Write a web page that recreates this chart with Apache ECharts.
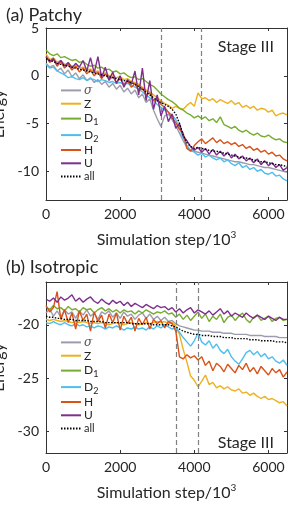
<!DOCTYPE html>
<html><head><meta charset="utf-8">
<script src="https://cdn.jsdelivr.net/npm/echarts@6/dist/echarts.min.js"></script>
<style>html,body{margin:0;padding:0;background:#fff}#c{width:291px;height:506px}</style>
</head><body><div id="c"></div>
<script>
const names = ['σ','Z','D1','D2','H','U','all'];
const colors = ['#9c9cae','#EDB120','#77AC30','#4DBEEE','#D95319','#7E2F8E','#000000'];
const steps = []; for (let s = 0; s <= 6500; s += 100) steps.push(s);
const xTicks = [0,2000,4000,6000];
const yTicksA = [-10,-5,0,5];
const yTicksB = [-30,-25,-20];
const stageLinesA = [3100,4200];
const stageLinesB = [3500,4100];

// Panel (a) Patchy
const aSigma = [1.3,0.9,1.1,0.5,0.8,0.2,0.6,-0.1,0.3,-0.3,0.1,-0.5,-0.2,-0.7,-0.4,-0.9,-0.6,-1.2,-0.8,-1.4,-1.0,-1.7,-1.3,-1.9,-1.5,-2.3,-1.9,-2.8,-2.4,-3.6,-4.5,-5.3,-4.2,-4.0,-4.6,-5.2,-6.0,-6.8,-7.5,-7.8,-7.9,-8.0,-8.1,-8.2,-8.3,-8.4,-8.5,-8.6,-8.7,-8.8,-8.9,-9.0,-9.0,-9.1,-9.2,-9.3,-9.3,-9.4,-9.5,-9.6,-9.6,-9.7,-9.8,-9.9,-10.0,-10.1];
const aZ = [2.3,1.7,1.9,1.4,1.6,1.2,1.3,1.0,1.1,0.8,0.9,0.6,0.7,0.4,0.5,0.2,0.3,0.0,0.1,-0.2,-0.1,-0.4,-0.3,-0.6,-0.7,-0.9,-1.2,-1.5,-1.7,-2.0,-2.3,-2.6,-2.9,-3.1,-3.4,-3.2,-3.4,-3.5,-3.1,-2.8,-3.2,-1.8,-2.4,-2.3,-2.6,-2.4,-2.8,-2.5,-2.7,-2.9,-2.6,-3.0,-2.8,-3.3,-3.1,-3.4,-3.2,-3.6,-3.4,-3.5,-3.8,-3.6,-4.2,-4.0,-3.9,-4.1];
const aD1 = [2.7,2.3,2.1,2.3,1.9,2.0,1.8,1.6,1.7,1.4,1.5,1.2,1.0,1.1,0.8,0.9,0.6,0.7,0.4,0.5,0.2,0.3,0.0,-0.2,-0.1,-0.4,-0.3,-0.6,-0.9,-1.1,-1.5,-1.9,-2.2,-2.5,-2.7,-3.0,-3.4,-3.6,-3.9,-4.1,-4.4,-4.2,-4.5,-4.3,-4.7,-4.5,-4.9,-4.3,-5.1,-5.3,-5.5,-5.3,-5.7,-5.9,-5.7,-6.0,-6.2,-6.0,-6.3,-6.4,-6.2,-6.5,-6.7,-6.6,-6.9,-7.0];
const aD2 = [1.2,0.8,0.9,0.5,0.3,0.1,-0.2,-0.1,-0.3,-0.4,-0.2,-0.5,-0.3,-0.4,-0.6,-0.4,-0.5,-0.7,-0.6,-0.8,-0.7,-0.9,-0.8,-1.0,-1.2,-1.4,-1.7,-2.0,-2.3,-2.6,-3.0,-3.3,-3.6,-3.8,-4.1,-4.6,-5.5,-6.5,-7.3,-7.8,-8.0,-8.3,-8.1,-8.5,-8.3,-8.6,-8.8,-8.6,-9.0,-8.8,-9.2,-9.4,-9.1,-9.6,-9.4,-9.8,-9.6,-10.0,-9.8,-10.2,-10.3,-10.1,-10.5,-10.4,-10.8,-11.0];
const aH = [2.0,1.4,1.7,1.0,1.5,0.8,1.2,0.6,1.0,0.4,0.8,0.2,0.6,0.0,0.4,-0.3,0.2,-0.4,-0.1,-0.7,-0.3,-0.9,-0.5,-1.2,-0.8,-1.6,-1.3,-2.0,-1.8,-2.6,-2.4,-3.0,-3.3,-3.8,-4.4,-4.9,-5.6,-6.0,-7.6,-7.9,-7.3,-6.9,-6.6,-7.1,-6.8,-6.5,-7.0,-6.7,-7.1,-6.9,-7.2,-7.0,-7.4,-7.2,-7.6,-7.4,-7.8,-7.6,-8.0,-7.8,-8.2,-8.0,-8.4,-8.3,-8.7,-8.9];
const aU = [2.0,1.5,1.8,1.2,1.6,1.0,1.4,0.8,1.3,0.9,1.6,0.5,1.9,0.3,2.0,-0.2,0.9,-0.5,0.4,-0.8,0.0,-1.2,-0.4,-0.9,0.5,-2.0,0.8,-2.6,-0.5,-3.5,-2.0,-4.2,-3.2,-4.8,-4.0,-5.5,-5.0,-6.3,-6.8,-7.4,-7.8,-7.5,-8.0,-7.6,-8.2,-7.7,-8.3,-7.9,-8.4,-8.0,-8.6,-8.2,-8.7,-8.4,-8.9,-8.6,-9.1,-8.7,-9.3,-8.9,-9.4,-9.1,-9.6,-9.3,-9.9,-9.6];
const aAll = [1.8,1.6,1.5,1.3,1.2,1.1,1.0,0.9,0.8,0.7,0.6,0.5,0.4,0.3,0.2,0.1,0.0,-0.1,-0.2,-0.3,-0.4,-0.5,-0.6,-0.7,-0.9,-1.1,-1.4,-1.7,-2.0,-2.3,-2.6,-2.8,-3.0,-3.2,-3.5,-4.0,-5.0,-6.2,-7.0,-7.4,-7.6,-7.5,-7.6,-7.7,-7.8,-7.9,-7.9,-8.0,-8.1,-8.2,-8.3,-8.4,-8.5,-8.6,-8.6,-8.7,-8.8,-8.9,-9.0,-9.0,-9.1,-9.2,-9.3,-9.3,-9.4,-9.5];

// Panel (b) Isotropic
const bSigma = [-18.9,-18.5,-19.2,-18.7,-19.3,-18.6,-19.0,-18.8,-19.4,-18.7,-19.1,-18.6,-19.2,-18.9,-19.5,-18.8,-19.0,-18.7,-19.3,-18.9,-19.4,-18.8,-19.2,-19.0,-19.5,-19.1,-18.9,-19.4,-19.0,-19.5,-19.2,-19.6,-19.3,-19.7,-19.6,-19.9,-20.1,-20.2,-20.3,-20.4,-20.5,-20.5,-20.6,-20.6,-20.6,-20.7,-20.7,-20.7,-20.8,-20.8,-20.8,-20.9,-20.9,-20.9,-20.9,-21.0,-21.0,-21.0,-21.0,-21.1,-21.1,-21.1,-21.1,-21.2,-21.2,-21.2];
const bZ = [-19.5,-19.6,-19.5,-19.6,-19.7,-19.6,-19.7,-19.8,-19.7,-19.8,-19.7,-19.8,-19.9,-19.8,-19.9,-19.8,-19.9,-20.0,-19.9,-19.8,-19.9,-20.0,-19.9,-19.8,-19.9,-20.0,-19.9,-19.8,-19.9,-19.8,-19.7,-19.8,-19.7,-19.9,-19.8,-20.1,-20.9,-22.3,-23.5,-24.8,-25.2,-25.8,-25.3,-24.7,-25.6,-25.4,-25.9,-25.7,-26.0,-25.8,-26.1,-26.2,-26.0,-26.4,-26.3,-26.6,-26.4,-26.7,-26.9,-26.7,-27.0,-26.9,-27.1,-27.3,-27.2,-27.6];
const bD1 = [-18.3,-18.6,-18.2,-18.5,-18.4,-18.7,-18.3,-18.6,-18.5,-18.8,-18.4,-18.6,-18.5,-18.9,-18.6,-18.4,-18.7,-18.5,-18.8,-18.6,-18.9,-18.6,-18.8,-18.7,-19.0,-18.7,-18.9,-18.6,-18.8,-19.0,-18.8,-18.9,-18.7,-19.0,-18.9,-19.3,-19.0,-19.5,-19.1,-19.6,-19.2,-18.8,-19.4,-19.0,-19.7,-19.2,-19.5,-19.0,-19.8,-19.3,-19.1,-19.6,-19.2,-18.9,-19.5,-19.8,-19.3,-19.1,-19.6,-19.4,-19.2,-19.7,-19.4,-19.3,-19.6,-19.5];
const bD2 = [-19.8,-19.9,-19.7,-19.9,-20.0,-19.8,-20.0,-20.1,-19.9,-20.1,-20.0,-20.2,-20.1,-20.3,-20.1,-20.2,-20.4,-20.2,-20.3,-20.1,-20.3,-20.5,-20.3,-20.4,-20.2,-20.4,-20.3,-20.5,-20.2,-20.4,-20.1,-20.3,-20.0,-20.2,-20.4,-20.3,-20.7,-21.2,-21.6,-22.0,-21.5,-20.8,-21.6,-21.9,-21.5,-22.2,-21.8,-22.4,-22.7,-22.3,-23.0,-23.4,-23.7,-23.2,-22.6,-22.4,-22.8,-22.5,-23.0,-22.7,-23.2,-23.0,-23.4,-23.6,-23.3,-23.8];
const bH = [-18.2,-18.8,-18.4,-16.9,-19.5,-18.6,-19.8,-18.9,-20.4,-18.7,-19.6,-19.0,-20.6,-18.8,-19.7,-19.1,-20.3,-19.0,-19.8,-18.9,-20.5,-19.2,-19.9,-19.3,-20.6,-19.4,-20.0,-19.3,-20.4,-19.5,-19.9,-19.6,-20.3,-19.7,-19.9,-20.6,-23.0,-23.2,-22.8,-23.1,-22.9,-23.3,-23.0,-23.8,-23.4,-24.3,-23.6,-23.9,-24.4,-23.7,-24.1,-24.5,-23.8,-24.2,-23.6,-24.4,-24.0,-24.6,-23.9,-24.3,-24.7,-24.1,-24.5,-24.2,-24.9,-24.4];
const bU = [-17.6,-17.8,-17.5,-17.9,-17.4,-17.7,-17.5,-17.2,-17.8,-17.5,-17.9,-17.6,-17.4,-17.8,-18.0,-17.6,-17.9,-18.1,-17.7,-18.0,-17.8,-18.2,-17.9,-18.3,-18.0,-18.2,-18.4,-18.1,-18.3,-18.5,-18.2,-18.4,-18.3,-18.6,-18.4,-18.8,-18.5,-18.9,-18.6,-18.4,-18.9,-18.6,-18.8,-19.0,-18.7,-19.1,-18.8,-18.5,-19.0,-18.7,-19.2,-18.9,-19.1,-19.3,-18.9,-19.2,-19.4,-19.1,-19.3,-19.5,-19.2,-19.4,-19.6,-19.3,-19.5,-19.5];
const bAll = [-19.2,-19.3,-19.3,-19.4,-19.4,-19.5,-19.5,-19.5,-19.6,-19.6,-19.6,-19.6,-19.7,-19.7,-19.7,-19.7,-19.8,-19.8,-19.8,-19.8,-19.8,-19.8,-19.8,-19.9,-19.9,-19.9,-19.9,-19.9,-19.9,-20.0,-20.0,-20.0,-20.0,-20.0,-20.1,-20.2,-20.4,-20.6,-20.7,-20.8,-20.9,-20.9,-21.0,-21.0,-21.0,-21.1,-21.1,-21.1,-21.2,-21.2,-21.2,-21.3,-21.3,-21.3,-21.3,-21.4,-21.4,-21.4,-21.5,-21.5,-21.5,-21.5,-21.6,-21.6,-21.6,-21.7];

const panelA = [aSigma,aZ,aD1,aD2,aH,aU,aAll];
const panelB = [bSigma,bZ,bD1,bD2,bH,bU,bAll];

const FONT = 'Lato';
const TXT = '#262626';
const AX = '#333333';

function pairs(arr){ return arr.map((v,i)=>[steps[i], v]); }
const numFmt = v => String(v);

function xAx(grid, top){
  return {
    type:'value', gridIndex:grid, min:0, max:6500, position: top?'top':'bottom',
    axisLine:{show:true, onZero:false, lineStyle:{color:AX,width:1}},
    axisTick:{show:true, inside:true, length:3, customValues:xTicks, lineStyle:{color:AX}},
    axisLabel:{show:!top, customValues:xTicks, formatter:numFmt, fontSize:14, color:TXT, fontFamily:FONT, margin:7},
    splitLine:{show:false},
    name: top ? '' : 'Simulation step/10{sup|3}',
    nameLocation:'middle', nameGap:30,
    nameTextStyle:{fontSize:16, color:TXT, fontFamily:FONT,
      rich:{sup:{fontSize:10, verticalAlign:'top', fontFamily:FONT, color:TXT, padding:[0,0,9,0]}}}
  };
}
function yAx(grid, right, mn, mx, ticks){
  return {
    type:'value', gridIndex:grid, min:mn, max:mx, position: right?'right':'left',
    axisLine:{show:true, onZero:false, lineStyle:{color:AX,width:1}},
    axisTick:{show:true, inside:true, length:3, customValues:ticks, lineStyle:{color:AX}},
    axisLabel:{show:!right, customValues:ticks, formatter:numFmt, fontSize:14, color:TXT, fontFamily:FONT, margin:7},
    splitLine:{show:false},
    name: right ? '' : 'Energy', nameLocation:'middle', nameGap:37, nameRotate:90,
    nameTextStyle:{fontSize:16, color:TXT, fontFamily:FONT}
  };
}

const series = [];
[panelA, panelB].forEach((panel, p) => {
  panel.forEach((vals, k) => {
    const s = {
      name: names[k], type:'line', xAxisIndex: p*2, yAxisIndex: p*2,
      data: pairs(vals), symbol:'none', showSymbol:false,
      lineStyle:{color:colors[k], width:1.4, type: k===6 ? [1.5,1.5] : 'solid'},
      itemStyle:{color:colors[k]},
      z: 2 + k
    };
    if (k === 6) {
      s.markLine = {
        silent:true, symbol:['none','none'], label:{show:false},
        lineStyle:{color:'#7f7f7f', type:[5,3], width:1.2},
        data: (p===0?stageLinesA:stageLinesB).map(v=>({xAxis:v}))
      };
    }
    series.push(s);
  });
});

const rich = {
  n:{fontSize:12, color:TXT, fontFamily:FONT, lineHeight:16},
  s:{fontSize:12, color:'#555', fontFamily:'DejaVu Serif', fontStyle:'italic', lineHeight:16},
  sub:{fontSize:9, color:TXT, fontFamily:FONT, lineHeight:9, verticalAlign:'bottom', padding:[7,0,0,0]},
  a:{fontSize:11, color:TXT, fontFamily:FONT, lineHeight:16}
};
function fmt(name){
  if (name === 'σ') return '{s|σ}';
  if (name === 'D1') return '{n|D}{sub|1}';
  if (name === 'D2') return '{n|D}{sub|2}';
  if (name === 'all') return '{a|all}';
  return '{n|' + name + '}';
}
function legend(top){
  return {
    orient:'vertical', left:55, top:top, itemWidth:20, itemHeight:16, itemGap:0.5,
    data:names, formatter:fmt, selectedMode:false,
    itemStyle:{opacity:0},
    textStyle:{rich:rich, padding:[0,0,0,-2]}
  };
}

const chart = echarts.init(document.getElementById('c'), null, {renderer:'canvas'});
chart.setOption({
  animation:false,
  backgroundColor:'#fff',
  title:[
    {text:'(a) Patchy', left:1, top:1, textStyle:{fontSize:18, fontWeight:'normal', color:TXT, fontFamily:FONT}},
    {text:'(b) Isotropic', left:1, top:253, textStyle:{fontSize:18, fontWeight:'normal', color:TXT, fontFamily:FONT}},
    {text:'Stage III', right:12, top:34, textStyle:{fontSize:16, fontWeight:'normal', color:TXT, fontFamily:FONT}},
    {text:'Stage III', right:12, top:430, textStyle:{fontSize:16, fontWeight:'normal', color:TXT, fontFamily:FONT}}
  ],
  grid:[
    {left:46, top:28, width:241, height:172, containLabel:false, outerBoundsMode:'none'},
    {left:46, top:282, width:241, height:171, containLabel:false, outerBoundsMode:'none'}
  ],
  xAxis:[xAx(0,false), xAx(0,true), xAx(1,false), xAx(1,true)],
  yAxis:[yAx(0,false,-13,5,yTicksA), yAx(0,true,-13,5,yTicksA), yAx(1,false,-32,-16,yTicksB), yAx(1,true,-32,-16,yTicksB)],
  legend:[legend(79), legend(331)],
  series: series
});
</script>
</body></html>
